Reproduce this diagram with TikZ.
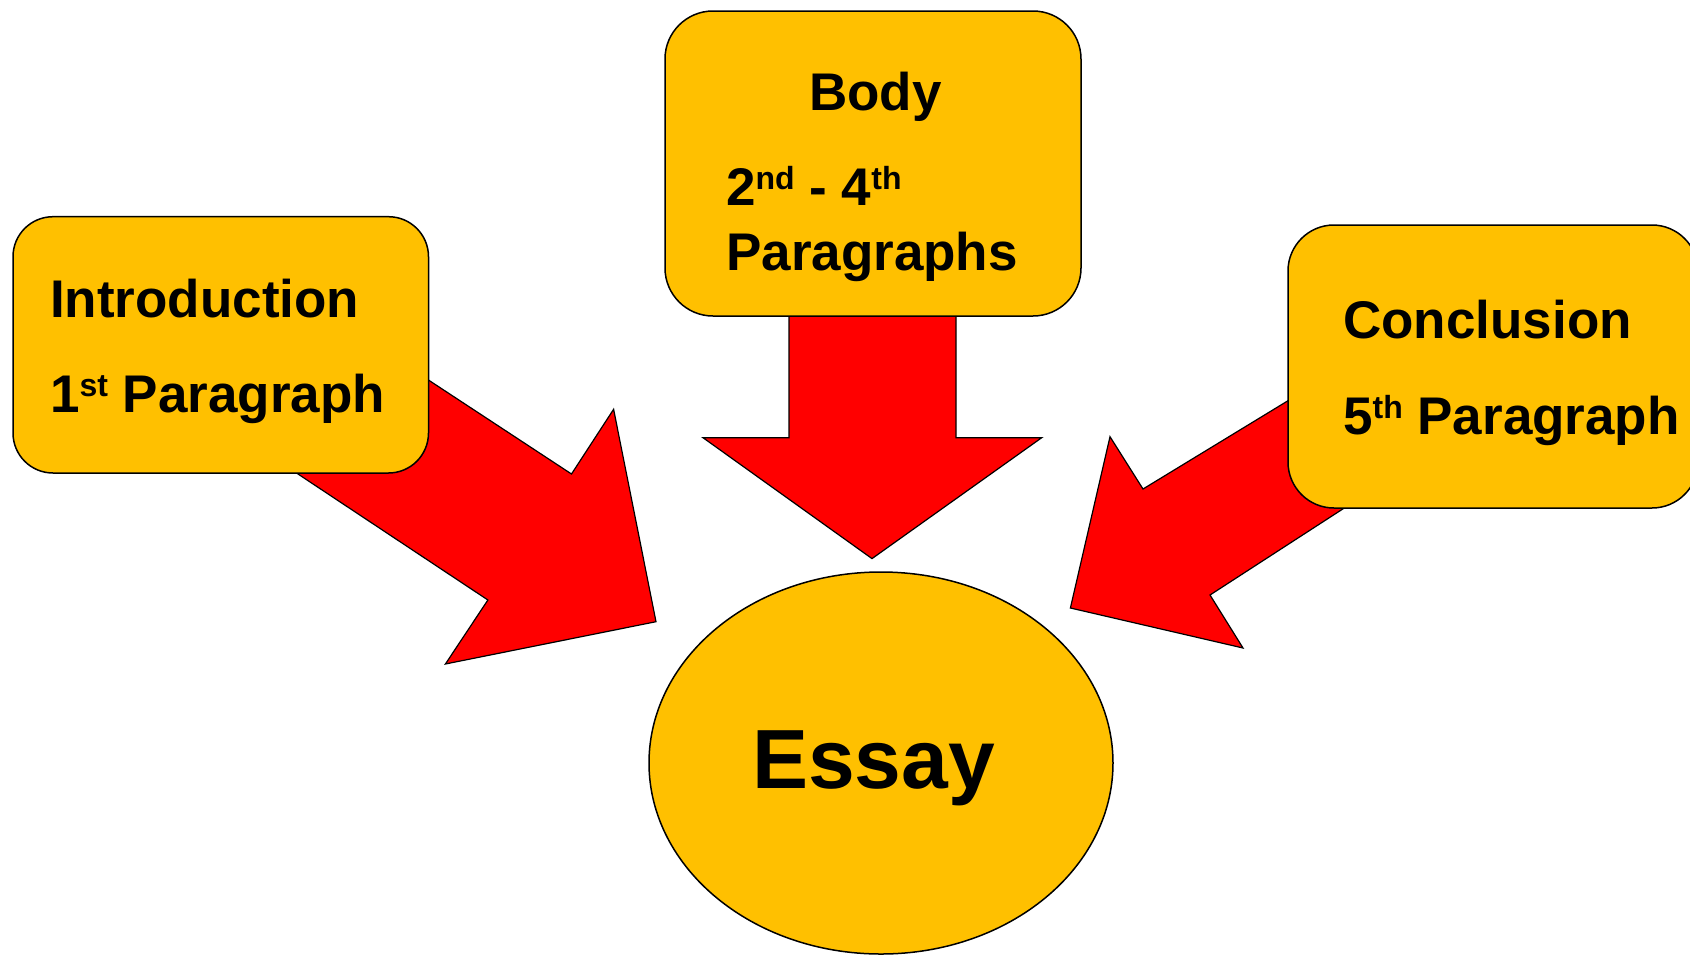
\documentclass[tikz,border=0pt]{standalone}
\usepackage{fontspec}
\setmainfont{Liberation Sans}
\usetikzlibrary{shapes.geometric}
\definecolor{gold}{HTML}{FFC000}
\definecolor{arrowred}{HTML}{FF0000}
\newcommand\supx[1]{\raisebox{16pt}{\fontsize{32}{32}\selectfont #1}}
\begin{document}
\begin{tikzpicture}[x=1pt,y=-1pt,
  box/.style={draw=black, line width=1.5pt, fill=gold, rounded corners=40pt, inner sep=0pt, outer sep=0pt},
  blockarrow/.style={draw=black, line width=1.2pt, fill=arrowred, line join=miter},
  lbl/.style={anchor=base west, inner sep=0pt, font=\bfseries\fontsize{53}{64}\selectfont},
]
\useasboundingbox (0,0) rectangle (1690,954);
\clip (0,0) rectangle (1690,954);

% block arrows (behind the boxes)
\draw[blockarrow] (300,295.6) coordinate (la1) -- (571.5,474) -- (613.6,409.3) -- (656,621.7) coordinate (ltip)
  -- (445.4,664) -- (487.9,600) -- (200,409) -- cycle;
\draw[blockarrow] (789,300) coordinate (ma1) -- (789,437.7) -- (703,437.7) -- (872,558.6) coordinate (mtip)
  -- (1041.7,437.7) -- (956,437.7) -- (956,300) -- cycle;
\draw[blockarrow] (1400,332.5) coordinate (ra1) -- (1143,489) -- (1110,436.7) -- (1070.4,608) coordinate (rtip)
  -- (1243,648) -- (1210,595) -- (1450,439.5) -- cycle;

% boxes
\node[box, minimum width=415.5pt, minimum height=256.3pt] (intro) at (220.75,344.85) {};
\node[box, rounded corners=48pt, minimum width=416pt, minimum height=305pt] (body) at (873,163.5) {};
\node[box, rounded corners=46pt, minimum width=410pt, minimum height=283pt] (concl) at (1493,366.5) {};

% essay ellipse
\node[ellipse, draw=black, line width=1.5pt, fill=gold, minimum width=464pt, minimum height=382pt, inner sep=0pt] (essay) at (881,763) {};

% labels
\node[lbl] (introA) at (50,317) {Introduction};
\node[lbl] (introB) at (50,412) {1\supx{st} Paragraph};
\node[lbl] (bodyA) at (809,110) {Body};
\node[lbl] (bodyB) at (726,205) {2\supx{nd} - 4\supx{th}};
\node[lbl] (bodyC) at (726,270) {Paragraphs};
\node[lbl] (conclA) at (1343,338) {Conclusion};
\node[lbl] (conclB) at (1343,434) {5\supx{th} Paragraph};
\node[anchor=base, inner sep=0pt, font=\bfseries\fontsize{84}{100}\selectfont] (essaytext) at (873.5,788) {Essay};
\end{tikzpicture}
\end{document}
